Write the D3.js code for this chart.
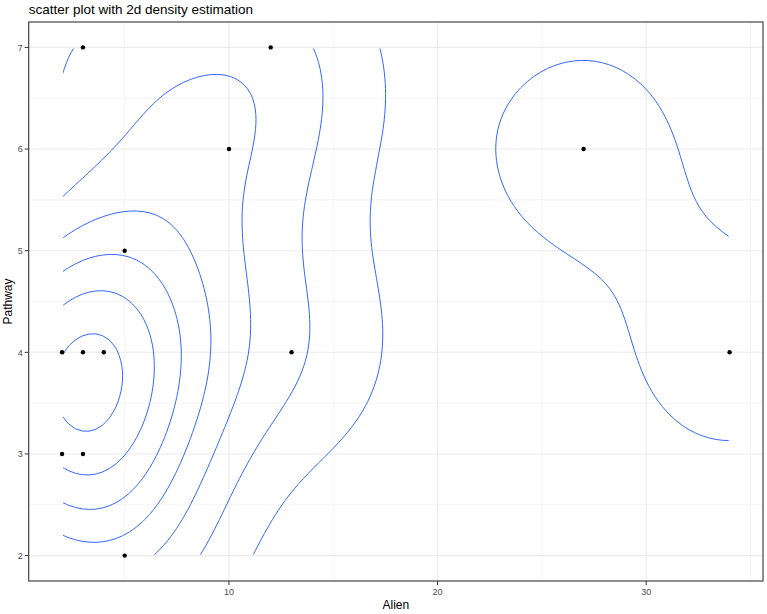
<!DOCTYPE html>
<html><head><meta charset="utf-8">
<script src="https://cdn.jsdelivr.net/npm/d3@7"></script>
<style>body{margin:0;background:#fff}text{font-family:"Liberation Sans",Arial,sans-serif}</style>
</head><body><svg id="c" width="767" height="614"></svg>
<script>
const alien   = [2,3,4,2,3,5,5,3,10,12,13,27,34];
const pathway = [4,4,4,3,3,5,2,7,6,7,4,6,4];
const xTicks = [10,20,30];
const yTicks = [2,3,4,5,6,7];
const title = "scatter plot with 2d density estimation";

const W=767,H=614, L=28.7,R=763,T=22,B=581;
const svg=d3.select("#c");
const xmin=d3.min(alien),xmax=d3.max(alien),ymin=d3.min(pathway),ymax=d3.max(pathway);
const ex=(xmax-xmin)*0.05, ey=(ymax-ymin)*0.05;
const x=d3.scaleLinear().domain([xmin-ex,xmax+ex]).range([L,R]);
const y=d3.scaleLinear().domain([ymin-ey,ymax+ey]).range([B,T]);

const g=svg.append("g");
[5,15,25,35].forEach(v=>{ if(v<=x.domain()[1]) g.append("line").attr("x1",x(v)).attr("x2",x(v)).attr("y1",T).attr("y2",B).attr("stroke","#ebebeb").attr("stroke-width",0.55);});
[2.5,3.5,4.5,5.5,6.5].forEach(v=>g.append("line").attr("y1",y(v)).attr("y2",y(v)).attr("x1",L).attr("x2",R).attr("stroke","#ebebeb").attr("stroke-width",0.55));
xTicks.forEach(v=>g.append("line").attr("x1",x(v)).attr("x2",x(v)).attr("y1",T).attr("y2",B).attr("stroke","#ebebeb").attr("stroke-width",1.1));
yTicks.forEach(v=>g.append("line").attr("y1",y(v)).attr("y2",y(v)).attr("x1",L).attr("x2",R).attr("stroke","#ebebeb").attr("stroke-width",1.1));

function bw(v){const s=d3.sort(v);const iqr=d3.quantileSorted(s,0.75)-d3.quantileSorted(s,0.25);
  return 4*1.06*Math.min(d3.deviation(v),iqr/1.34)*Math.pow(v.length,-0.2);}
const hx=bw(alien)/4, hy=bw(pathway)/4, n=100, N=alien.length;
const gx=d3.range(n).map(i=>xmin+i*(xmax-xmin)/(n-1));
const gy=d3.range(n).map(i=>ymin+i*(ymax-ymin)/(n-1));
const phi=u=>Math.exp(-0.5*u*u)/Math.sqrt(2*Math.PI);
const M=n+2, vals=new Array(M*M).fill(0);
let zmin=Infinity,zmax=-Infinity;
for(let j=0;j<n;j++)for(let i=0;i<n;i++){
  let s=0;for(let k=0;k<N;k++)s+=phi((gx[i]-alien[k])/hx)*phi((gy[j]-pathway[k])/hy);
  s/=N*hx*hy; vals[(j+1)*M+(i+1)]=s; zmin=Math.min(zmin,s); zmax=Math.max(zmax,s);
}
const breaks=d3.ticks(zmin,zmax,10).filter(b=>b>0);
const cs=d3.contours().size([M,M]).smooth(true).thresholds(breaks)(vals);
const cx=c=>x(xmin+(c-1.5)*(xmax-xmin)/(n-1));
const cy=c=>y(ymin+(c-1.5)*(ymax-ymin)/(n-1));
const path=d3.geoPath(d3.geoTransform({point(px,py){this.stream.point(cx(px),cy(py));}}));
svg.append("clipPath").attr("id","dc").append("rect").attr("x",x(xmin)+1).attr("y",y(ymax)+1).attr("width",x(xmax)-x(xmin)-2).attr("height",y(ymin)-y(ymax)-2);
svg.append("g").attr("clip-path","url(#dc)").selectAll("path").data(cs).join("path")
  .attr("d",path).attr("fill","none").attr("stroke","#3366FF").attr("stroke-width",1);

svg.append("g").selectAll("circle").data(alien).join("circle")
  .attr("cx",(d)=>x(d)).attr("cy",(d,i)=>y(pathway[i])).attr("r",2.2).attr("fill","#000");

svg.append("rect").attr("x",L).attr("y",T).attr("width",R-L).attr("height",B-T).attr("fill","none").attr("stroke","#333").attr("stroke-width",1.1);

xTicks.forEach(v=>{svg.append("line").attr("x1",x(v)).attr("x2",x(v)).attr("y1",B).attr("y2",B+4).attr("stroke","#333");
  svg.append("text").attr("x",x(v)).attr("y",B+14).attr("text-anchor","middle").attr("font-size",9).attr("fill","#4d4d4d").text(v);});
yTicks.forEach(v=>{svg.append("line").attr("x1",L-4).attr("x2",L).attr("y1",y(v)).attr("y2",y(v)).attr("stroke","#333");
  svg.append("text").attr("x",L-6).attr("y",y(v)+3.2).attr("text-anchor","end").attr("font-size",9).attr("fill","#4d4d4d").text(v);});
svg.append("text").attr("x",(L+R)/2).attr("y",609).attr("text-anchor","middle").attr("font-size",12).text("Alien");
svg.append("text").attr("transform",`translate(12,${(T+B)/2}) rotate(-90)`).attr("text-anchor","middle").attr("font-size",12).text("Pathway");
svg.append("text").attr("x",L).attr("y",14).attr("font-size",13.5).text(title);
</script></body></html>
